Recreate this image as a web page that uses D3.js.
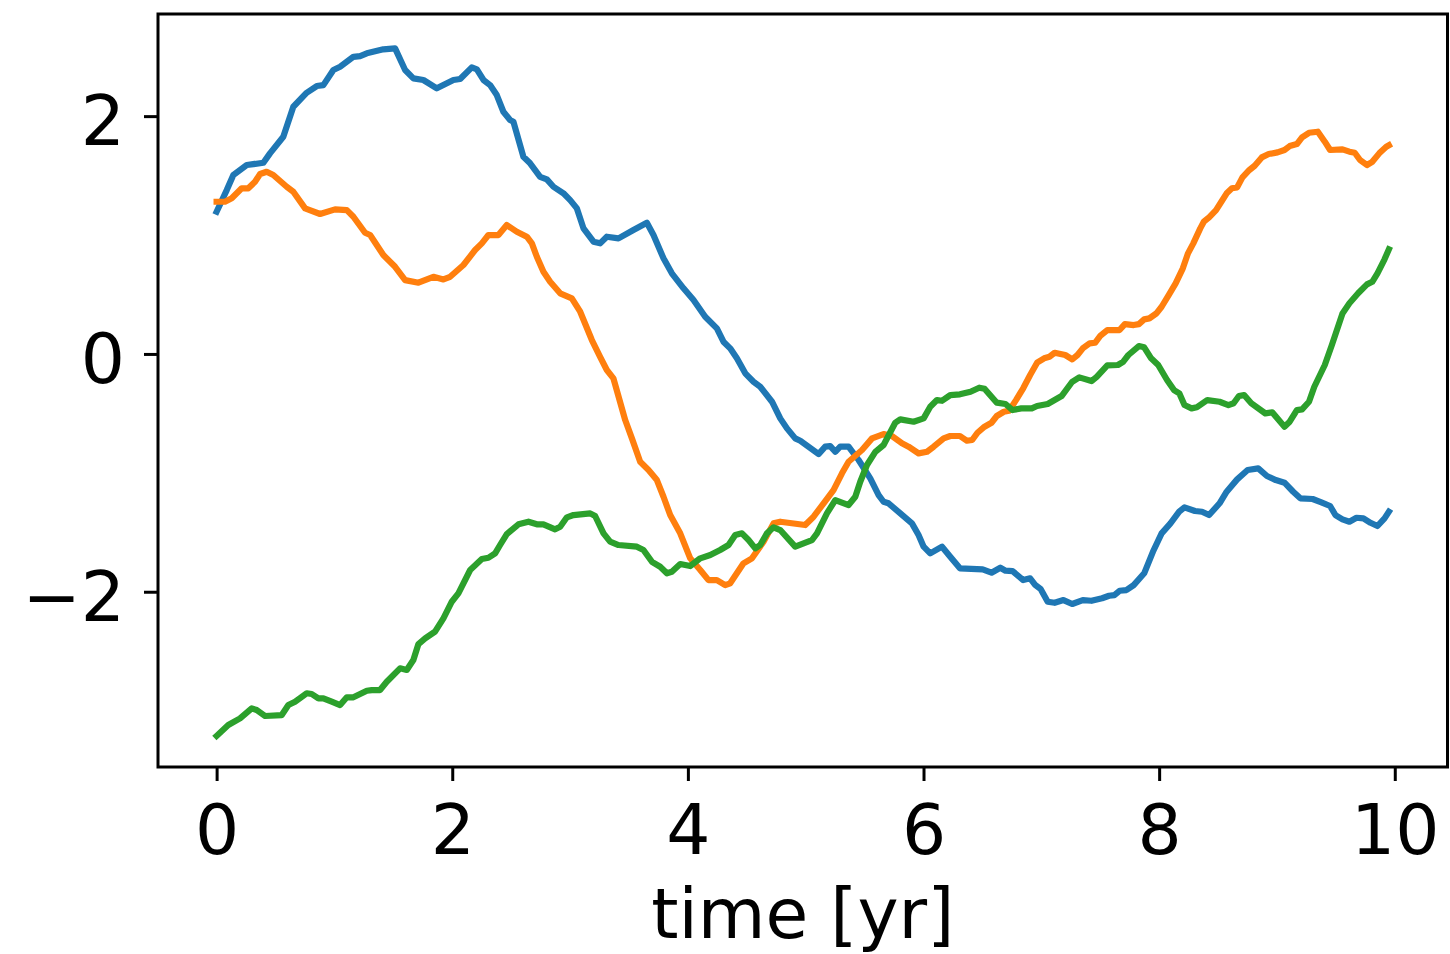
<!DOCTYPE html>
<html>
<head>
<meta charset="utf-8">
<script src="https://cdn.jsdelivr.net/npm/d3@7"></script>
<style>
  body { margin: 0; background: #ffffff; }
  svg { display: block; }
  text { font-family: "DejaVu Sans", sans-serif; }
</style>
</head>
<body>
<svg id="chart" width="1450" height="954"></svg>
<script>
// Three random-walk series sampled over ten years
const blueTime = [0, .086, .142, .256, .397, .453, .566, .651, .765, .850,
  .906, .991, 1.048, 1.161, 1.218, 1.275, 1.415, 1.515, 1.600, 1.670,
  1.755, 1.869, 2.010, 2.067, 2.166, 2.209, 2.265, 2.321, 2.378, 2.434,
  2.491, 2.519, 2.604, 2.661, 2.746, 2.803, 2.859, 2.944, 3.001, 3.058,
  3.114, 3.199, 3.255, 3.312, 3.411, 3.538, 3.652, 3.708, 3.793, 3.864,
  3.963, 4.048, 4.147, 4.246, 4.302, 4.359, 4.416, 4.487, 4.557, 4.614,
  4.714, 4.784, 4.841, 4.911, 4.954, 5.109, 5.166, 5.208, 5.251, 5.293,
  5.364, 5.449, 5.548, 5.619, 5.661, 5.703, 5.803, 5.902, 5.958, 6.001,
  6.057, 6.157, 6.227, 6.309, 6.502, 6.577, 6.652, 6.696, 6.756, 6.846,
  6.905, 6.949, 6.994, 7.054, 7.113, 7.188, 7.262, 7.352, 7.426, 7.516,
  7.575, 7.620, 7.664, 7.723, 7.784, 7.873, 7.947, 8.021, 8.096, 8.170,
  8.215, 8.304, 8.364, 8.424, 8.513, 8.573, 8.662, 8.751, 8.841, 8.915,
  8.990, 9.064, 9.138, 9.198, 9.303, 9.377, 9.451, 9.496, 9.556, 9.615,
  9.675, 9.734, 9.794, 9.853, 9.913, 9.95];
const blueValue = [1.196, 1.378, 1.505, 1.589, 1.608, 1.687, 1.827, 2.079, 2.197, 2.253,
  2.261, 2.388, 2.415, 2.499, 2.505, 2.528, 2.562, 2.570, 2.388, 2.318,
  2.304, 2.234, 2.304, 2.312, 2.410, 2.394, 2.304, 2.261, 2.177, 2.037,
  1.967, 1.953, 1.658, 1.603, 1.490, 1.468, 1.406, 1.351, 1.294, 1.224,
  1.056, 0.944, 0.930, 0.986, 0.972, 1.042, 1.103, 1.000, 0.804, 0.678,
  0.552, 0.453, 0.313, 0.215, 0.103, 0.047, -0.037, -0.163, -0.234, -0.276,
  -0.402, -0.542, -0.626, -0.710, -0.730, -0.842, -0.780, -0.775, -0.823, -0.780,
  -0.780, -0.892, -1.046, -1.187, -1.243, -1.256, -1.341, -1.425, -1.523, -1.621,
  -1.677, -1.621, -1.706, -1.803, -1.812, -1.840, -1.798, -1.823, -1.826, -1.902,
  -1.887, -1.944, -1.977, -2.084, -2.093, -2.070, -2.103, -2.070, -2.076, -2.055,
  -2.034, -2.028, -1.992, -1.986, -1.944, -1.845, -1.664, -1.509, -1.425, -1.327,
  -1.290, -1.321, -1.327, -1.355, -1.256, -1.159, -1.055, -0.976, -0.962, -1.027,
  -1.061, -1.083, -1.159, -1.214, -1.220, -1.248, -1.279, -1.355, -1.391, -1.411,
  -1.378, -1.383, -1.420, -1.447, -1.383, -1.327];

const orangeTime = [0, .071, .128, .213, .269, .326, .369, .425, .481, .595,
  .651, .751, .878, 1.005, 1.105, 1.161, 1.260, 1.303, 1.415, 1.515,
  1.600, 1.713, 1.840, 1.925, 1.982, 2.095, 2.194, 2.251, 2.307, 2.392,
  2.463, 2.548, 2.633, 2.676, 2.718, 2.774, 2.831, 2.916, 3.015, 3.086,
  3.185, 3.255, 3.312, 3.368, 3.468, 3.525, 3.595, 3.666, 3.737, 3.793,
  3.850, 3.935, 4.020, 4.105, 4.175, 4.246, 4.317, 4.359, 4.472, 4.544,
  4.642, 4.727, 4.784, 4.996, 5.067, 5.152, 5.236, 5.308, 5.364, 5.478,
  5.563, 5.661, 5.732, 5.817, 5.873, 5.958, 6.030, 6.086, 6.171, 6.227,
  6.309, 6.368, 6.413, 6.458, 6.518, 6.577, 6.622, 6.682, 6.726, 6.785,
  6.846, 6.905, 6.964, 7.024, 7.069, 7.113, 7.203, 7.262, 7.307, 7.352,
  7.411, 7.456, 7.500, 7.560, 7.664, 7.709, 7.784, 7.828, 7.873, 7.917,
  7.977, 8.021, 8.081, 8.140, 8.201, 8.245, 8.290, 8.349, 8.379, 8.424,
  8.483, 8.528, 8.573, 8.618, 8.662, 8.707, 8.766, 8.811, 8.871, 8.930,
  9.005, 9.064, 9.108, 9.169, 9.213, 9.272, 9.347, 9.406, 9.451, 9.556,
  9.615, 9.660, 9.705, 9.764, 9.809, 9.868, 9.928, 9.95];
const orangeValue = [1.280, 1.280, 1.309, 1.393, 1.393, 1.448, 1.513, 1.532, 1.505, 1.406,
  1.364, 1.224, 1.177, 1.216, 1.210, 1.154, 1.019, 1.000, 0.832, 0.733,
  0.621, 0.599, 0.649, 0.627, 0.649, 0.748, 0.874, 0.930, 1.000, 1.000,
  1.084, 1.028, 0.986, 0.930, 0.817, 0.691, 0.607, 0.510, 0.468, 0.355,
  0.117, -0.024, -0.135, -0.205, -0.556, -0.710, -0.907, -0.976, -1.061, -1.201,
  -1.355, -1.509, -1.719, -1.817, -1.902, -1.902, -1.944, -1.929, -1.761, -1.719,
  -1.579, -1.425, -1.411, -1.439, -1.369, -1.256, -1.145, -1.004, -0.907, -0.808,
  -0.710, -0.674, -0.690, -0.752, -0.780, -0.836, -0.823, -0.780, -0.710, -0.690,
  -0.690, -0.730, -0.724, -0.663, -0.612, -0.579, -0.522, -0.486, -0.478, -0.388,
  -0.289, -0.177, -0.074, -0.037, -0.024, 0.010, -0.009, -0.045, -0.009, 0.047,
  0.089, 0.094, 0.151, 0.201, 0.201, 0.251, 0.243, 0.251, 0.291, 0.299,
  0.341, 0.397, 0.495, 0.594, 0.720, 0.846, 0.930, 1.056, 1.112, 1.149,
  1.210, 1.280, 1.351, 1.393, 1.401, 1.485, 1.547, 1.583, 1.653, 1.681,
  1.695, 1.715, 1.748, 1.765, 1.822, 1.860, 1.869, 1.785, 1.715, 1.721,
  1.701, 1.692, 1.631, 1.589, 1.616, 1.687, 1.743, 1.755];

const greenTime = [0, .099, .199, .298, .340, .411, .553, .609, .666, .765,
  .807, .864, .906, .977, 1.048, 1.105, 1.161, 1.275, 1.317, 1.387,
  1.444, 1.557, 1.614, 1.670, 1.713, 1.770, 1.854, 1.925, 1.996, 2.052,
  2.152, 2.251, 2.307, 2.364, 2.406, 2.463, 2.562, 2.647, 2.718, 2.774,
  2.873, 2.916, 2.973, 3.029, 3.171, 3.213, 3.284, 3.340, 3.411, 3.567,
  3.623, 3.695, 3.765, 3.822, 3.864, 3.935, 4.020, 4.105, 4.190, 4.274,
  4.345, 4.402, 4.459, 4.515, 4.572, 4.614, 4.671, 4.727, 4.784, 4.911,
  5.053, 5.096, 5.180, 5.251, 5.364, 5.421, 5.463, 5.520, 5.591, 5.661,
  5.760, 5.803, 5.916, 6.001, 6.057, 6.114, 6.157, 6.227, 6.309, 6.399,
  6.473, 6.518, 6.622, 6.696, 6.756, 6.830, 6.919, 6.964, 7.054, 7.172,
  7.262, 7.322, 7.426, 7.470, 7.560, 7.650, 7.694, 7.739, 7.828, 7.873,
  7.932, 7.992, 8.067, 8.126, 8.171, 8.215, 8.275, 8.320, 8.409, 8.513,
  8.588, 8.632, 8.677, 8.721, 8.782, 8.901, 8.960, 9.064, 9.108, 9.169,
  9.213, 9.272, 9.317, 9.406, 9.466, 9.556, 9.615, 9.689, 9.764, 9.809,
  9.853, 9.913, 9.95];
const greenValue = [-3.213, -3.121, -3.065, -2.981, -2.995, -3.045, -3.037, -2.953, -2.925, -2.854,
  -2.860, -2.896, -2.896, -2.925, -2.953, -2.888, -2.888, -2.833, -2.827, -2.827,
  -2.757, -2.644, -2.658, -2.574, -2.440, -2.392, -2.336, -2.224, -2.084, -2.013,
  -1.817, -1.725, -1.714, -1.677, -1.607, -1.515, -1.433, -1.411, -1.433, -1.433,
  -1.475, -1.453, -1.374, -1.355, -1.341, -1.363, -1.509, -1.579, -1.607, -1.621,
  -1.649, -1.748, -1.790, -1.845, -1.832, -1.767, -1.784, -1.719, -1.691, -1.649,
  -1.607, -1.523, -1.509, -1.565, -1.635, -1.607, -1.509, -1.458, -1.481, -1.621,
  -1.565, -1.509, -1.341, -1.229, -1.271, -1.201, -1.075, -0.934, -0.823, -0.766,
  -0.579, -0.550, -0.570, -0.542, -0.444, -0.388, -0.394, -0.346, -0.340, -0.318,
  -0.284, -0.293, -0.410, -0.421, -0.472, -0.458, -0.458, -0.438, -0.421, -0.354,
  -0.234, -0.197, -0.228, -0.192, -0.096, -0.093, -0.066, -0.009, 0.066, 0.056,
  -0.037, -0.093, -0.219, -0.304, -0.331, -0.430, -0.458, -0.449, -0.388, -0.402,
  -0.430, -0.415, -0.354, -0.346, -0.415, -0.500, -0.491, -0.612, -0.570, -0.472,
  -0.466, -0.402, -0.276, -0.093, 0.075, 0.341, 0.426, 0.510, 0.585, 0.607,
  0.678, 0.796, 0.880];

const xTicks = [0, 2, 4, 6, 8, 10];
const yTicks = [-2, 0, 2];
const xLabel = "time [yr]";

const series = [
  { time: blueTime, value: blueValue, color: "#1f77b4" },
  { time: orangeTime, value: orangeValue, color: "#ff7f0e" },
  { time: greenTime, value: greenValue, color: "#2ca02c" }
];

// Plot frame
const frame = { left: 158, right: 1447.5, top: 14, bottom: 767 };
const fontSize = 69.5;
const tickLen = 14;

const x = d3.scaleLinear().domain([-0.4975, 10.4475]).range([frame.left, frame.right]);
const y = d3.scaleLinear().domain([-3.474, 2.859]).range([frame.bottom, frame.top]);

const svg = d3.select("#chart");
svg.append("rect").attr("width", 1450).attr("height", 954).attr("fill", "#ffffff");

const line = d3.line()
  .x(d => x(d[0]))
  .y(d => y(d[1]));

svg.append("g").attr("class", "lines")
  .selectAll("path")
  .data(series)
  .join("path")
  .attr("d", s => line(d3.zip(s.time, s.value)))
  .attr("fill", "none")
  .attr("stroke", s => s.color)
  .attr("stroke-width", 6.2)
  .attr("stroke-linejoin", "round")
  .attr("stroke-linecap", "square");

// Axes
const intFormat = d3.format("d");
const xAxis = svg.append("g")
  .attr("transform", `translate(0,${frame.bottom})`)
  .call(d3.axisBottom(x).tickValues(xTicks).tickFormat(intFormat)
    .tickSizeInner(tickLen).tickSizeOuter(0));
const yAxis = svg.append("g")
  .attr("transform", `translate(${frame.left},0)`)
  .call(d3.axisLeft(y).tickValues(yTicks).tickFormat(intFormat)
    .tickSizeInner(tickLen).tickSizeOuter(0));

[xAxis, yAxis].forEach(g => {
  g.select(".domain").remove();
  g.selectAll(".tick line").attr("stroke", "#000").attr("stroke-width", 3);
  g.selectAll(".tick text")
    .attr("fill", "#000")
    .style("font-size", fontSize + "px")
    .style("font-family", '"DejaVu Sans", sans-serif');
});
xAxis.selectAll(".tick text").attr("y", 87).attr("dy", null);
yAxis.selectAll(".tick text").attr("x", -33).attr("dy", null).attr("y", 28.5);

// Spines
svg.append("rect")
  .attr("x", frame.left).attr("y", frame.top)
  .attr("width", frame.right - frame.left).attr("height", frame.bottom - frame.top)
  .attr("fill", "none")
  .attr("stroke", "#000")
  .attr("stroke-width", 3);

svg.append("text")
  .attr("x", (frame.left + frame.right) / 2)
  .attr("y", 938)
  .attr("text-anchor", "middle")
  .style("font-size", fontSize + "px")
  .text(xLabel);
</script>
</body>
</html>
